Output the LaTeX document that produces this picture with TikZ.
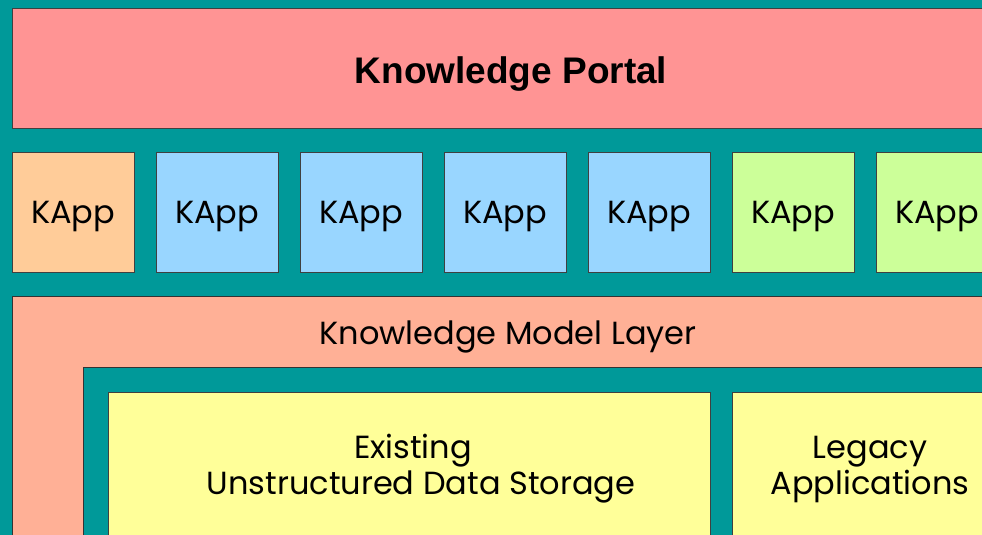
\documentclass[tikz,border=0pt]{standalone}
\usepackage{fontspec}
\setmainfont{Poppins}
\newfontfamily\headfont{Liberation Sans}
\begin{document}
\begin{tikzpicture}[x=1pt,y=-1pt,
  every node/.style={inner sep=0pt, outer sep=0pt},
  box/.style={draw=black!75, line width=0.8pt, anchor=north west},
  bodyfont/.style={font=\fontsize{32}{36}\selectfont},
  kapp/.style={box, bodyfont, minimum width=122pt, minimum height=120pt,
    text height=22pt, text depth=0pt},
  lbl/.style={bodyfont, anchor=base},
]
\definecolor{teal}{RGB}{0,153,153}
\definecolor{portal}{RGB}{255,148,148}
\definecolor{kapporange}{RGB}{255,204,153}
\definecolor{kappblue}{RGB}{153,214,255}
\definecolor{kappgreen}{RGB}{204,255,153}
\definecolor{modellayer}{RGB}{255,176,150}
\definecolor{storage}{RGB}{255,255,153}

\useasboundingbox (0,0) rectangle (982,535);
\clip (0,0) rectangle (982,535);
\fill[teal] (0,0) rectangle (982,535);

% top portal bar
\node[box, fill=portal, minimum width=998pt, minimum height=120pt,
  font=\headfont\fontsize{37}{40}\selectfont\bfseries,
  text height=32pt, text depth=0pt] (portal) at (12,8) {Knowledge Portal};

% row of knowledge applications
\node[kapp, fill=kapporange] (k1) at (12,152) {KApp};
\node[kapp, fill=kappblue]   (k2) at (156,152) {KApp};
\node[kapp, fill=kappblue]   (k3) at (300,152) {KApp};
\node[kapp, fill=kappblue]   (k4) at (444,152) {KApp};
\node[kapp, fill=kappblue]   (k5) at (588,152) {KApp};
\node[kapp, fill=kappgreen]  (k6) at (732,152) {KApp};
\node[kapp, fill=kappgreen]  (k7) at (876,152) {KApp};

% L-shaped model layer wrapping the storage area
\draw[fill=modellayer, draw=black!80, line width=0.8pt]
  (12,560) -- (12,296) -- (1000,296) -- (1000,367) -- (83,367) -- (83,560);
\node[lbl] (layer) at (508,344) {Knowledge Model Layer};

% storage and legacy blocks
\node[box, fill=storage, minimum width=602pt, minimum height=170pt] (storage) at (108,392) {};
\node[lbl] (storage1) at (413,458) {Existing};
\node[lbl] (storage2) at (421,494) {Unstructured Data Storage};
\node[box, fill=storage, minimum width=276pt, minimum height=170pt] (legacy) at (732,392) {};
\node[lbl] (legacy1) at (870,458) {Legacy};
\node[lbl] (legacy2) at (870,494) {Applications};
\end{tikzpicture}
\end{document}
